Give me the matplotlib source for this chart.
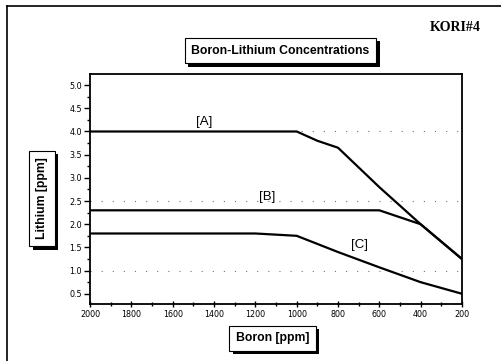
import matplotlib
matplotlib.use("Agg")
import matplotlib.pyplot as plt
import matplotlib.patheffects as pe
from matplotlib.lines import Line2D
from matplotlib.ticker import MultipleLocator, FormatStrFormatter

# -------------------------
# data
# -------------------------
boron_a = [2000, 1000, 900, 800, 600, 400, 200]
lithium_a = [4.0, 4.0, 3.8, 3.65, 2.8, 2.0, 1.25]

boron_b = [2000, 600, 400, 200]
lithium_b = [2.3, 2.3, 2.0, 1.25]

boron_c = [2000, 1200, 1000, 800, 600, 400, 200]
lithium_c = [1.8, 1.8, 1.75, 1.4, 1.07, 0.75, 0.5]

curve_labels = ["[A]", "[B]", "[C]"]
label_pos = [(1450, 4.2), (1145, 2.58), (695, 1.55)]
grid_levels = [1.0, 2.5, 4.0]

fig = plt.figure(figsize=(5.01, 3.61), dpi=100)
ax = fig.add_axes([0.18, 0.158, 0.742, 0.637])

for x, y in [(boron_a, lithium_a), (boron_b, lithium_b), (boron_c, lithium_c)]:
    ax.plot(x, y, color="black", lw=1.6, solid_joinstyle="round")

for g in grid_levels:
    ax.axhline(g, color="0.45", lw=0.8, ls=(0, (1, 9)), zorder=0)

for lab, (x, y) in zip(curve_labels, label_pos):
    ax.text(x, y, lab, ha="center", va="center", fontsize=9.5, family="Liberation Sans")

ax.set_xlim(2000, 200)
ax.set_ylim(0.28, 5.24)
ax.xaxis.set_major_locator(MultipleLocator(200))
ax.xaxis.set_minor_locator(MultipleLocator(100))
ax.set_yticks([0.5, 1.0, 1.5, 2.0, 2.5, 3.0, 3.5, 4.0, 4.5, 5.0])
ax.yaxis.set_minor_locator(MultipleLocator(0.25))
ax.yaxis.set_major_formatter(FormatStrFormatter("%.1f"))
ax.tick_params(which="both", labelsize=5.8, width=1.0, colors="black")
ax.tick_params(axis="x", which="both", direction="inout")
ax.tick_params(axis="x", which="major", length=5, pad=2)
ax.tick_params(axis="x", which="minor", length=3)
ax.tick_params(axis="y", which="both", direction="out")
ax.tick_params(axis="y", which="major", length=4, pad=2)
ax.tick_params(axis="y", which="minor", length=2)
for s in ax.spines.values():
    s.set_linewidth(1.3)

shadow = [pe.withSimplePatchShadow(offset=(2.5, -2.5), shadow_rgbFace="black", alpha=1.0)]
box = dict(boxstyle="square,pad=0.55", fc="white", ec="black", lw=0.8)

t1 = fig.text(0.56, 0.86, "Boron-Lithium Concentrations", ha="center", va="center",
              fontsize=8.8, fontweight="bold", family="Liberation Sans", bbox=box)
t2 = fig.text(0.544, 0.063, "Boron [ppm]", ha="center", va="center",
              fontsize=8.8, fontweight="bold", family="Liberation Sans", bbox=box)
t3 = fig.text(0.084, 0.45, "Lithium [ppm]", ha="center", va="center", rotation=90,
              fontsize=8.8, fontweight="bold", family="Liberation Sans", bbox=box)
for t in (t1, t2, t3):
    t.get_bbox_patch().set_path_effects(shadow)

fig.text(0.908, 0.925, "KORI#4", ha="center", va="center", fontsize=10,
         fontweight="bold", family="Liberation Serif")

# page frame: only the top and left edges show in the scan
fig.add_artist(Line2D([0.014, 1.0], [0.983, 0.983], color="black", lw=1.2))
fig.add_artist(Line2D([0.014, 0.014], [0.0, 0.983], color="black", lw=1.2))

fig.savefig("out.png", dpi=100)
